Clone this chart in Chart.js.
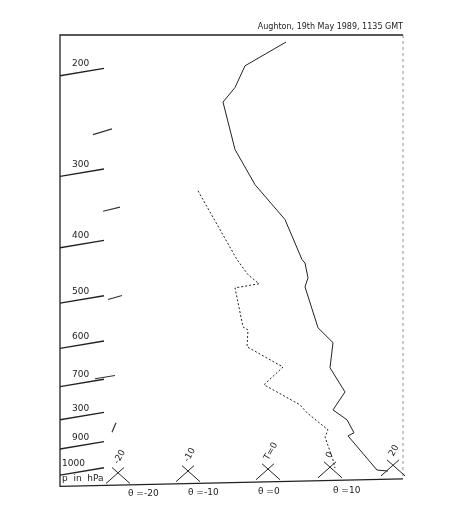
<!DOCTYPE html>
<html><head><meta charset="utf-8">
<script src="https://cdn.jsdelivr.net/npm/chart.js@4"></script>
<style>html,body{margin:0;background:#fff}#wrap{width:456px;height:528px}</style>
</head><body><div id="wrap"><canvas id="c"></canvas></div>
<script>
// sounding: x = position across the chart, p = pressure (hPa)
const tempX = [286,245,235,223,235,255,285,302,305,308,305,318,333,330,345,333,347,354,348,377,388];
const tempP = [179,197,215,228,276,318,366,430,436,463,480,566,601,665,733,788,820,864,875,1004,1008];
const dewX = [198,237,248,259,235,243,248,247,283,264,300,307,328,325,333,335];
const dewP = [326,430,457,474,482,564,571,611,663,712,772,797,854,879,964,996];
const isobars = [200,300,400,500,600,700,800,900,1000];
const isoLabels = ['200','300','400','500','600','700','300','900','1000'];
const thetaX = [118,188,268,330,393];
const thetaTags = ['-20','-10','T=0','0','20'];
const thetaLabels = ['θ =-20','θ =-10','θ =0','θ =10'];
const thetaLabelX = [150,210,280,355];
// wind barbs: [x, p, dx, dp-ratio] rough stick ends
const barbs = [
  [[93,260],[112,254]], [[103,354],[120,348]], [[108,505],[122,497]],
  [[95,695],[115,686]], [[112,862],[116,830]]
];

const lineDs = (xs, ps, dash) => ({
  data: xs.map((x, i) => ({x, y: ps[i]})), borderColor: '#222', borderWidth: 1,
  borderDash: dash, pointRadius: 0, tension: 0
});
const datasets = [lineDs(tempX, tempP, []), lineDs(dewX, dewP, [2, 2])];
isobars.forEach(p => datasets.push({
  data: [{x: 60, y: p * 1.025}, {x: 104, y: p * 0.995}],
  borderColor: '#222', borderWidth: 1.4, pointRadius: 0
}));
barbs.forEach(b => datasets.push({
  data: b.map(([x, y]) => ({x, y})), borderColor: '#333', borderWidth: 1.2, pointRadius: 0
}));

const deco = {
  id: 'deco',
  afterDatasetsDraw(chart) {
    const c = chart.ctx, xs = chart.scales.x, ys = chart.scales.y;
    c.save();
    c.strokeStyle = '#222'; c.fillStyle = '#222'; c.lineWidth = 1.3;
    // frame
    c.beginPath();
    c.moveTo(xs.getPixelForValue(60), ys.getPixelForValue(1075));
    c.lineTo(xs.getPixelForValue(60), ys.getPixelForValue(174));
    c.lineTo(xs.getPixelForValue(403), ys.getPixelForValue(174));
    c.stroke();
    c.beginPath();
    c.moveTo(xs.getPixelForValue(60), ys.getPixelForValue(1072));
    c.lineTo(xs.getPixelForValue(403), ys.getPixelForValue(1040));
    c.stroke();
    c.lineWidth = 0.7; c.setLineDash([3, 3]); c.strokeStyle = '#666';
    c.beginPath();
    c.moveTo(xs.getPixelForValue(403), ys.getPixelForValue(174));
    c.lineTo(xs.getPixelForValue(403), ys.getPixelForValue(1040));
    c.stroke();
    c.setLineDash([]); c.strokeStyle = '#222'; c.lineWidth = 1;
    // isobar labels
    c.font = '9px "DejaVu Sans"'; c.textBaseline = 'bottom';
    isobars.forEach((p, i) => c.fillText(isoLabels[i], xs.getPixelForValue(i === 8 ? 62 : 72), ys.getPixelForValue(p) - 1));
    c.fillText('p  in  hPa', xs.getPixelForValue(62), ys.getPixelForValue(1060));
    // theta crosses at the base
    thetaX.forEach((x, i) => {
      const px = xs.getPixelForValue(x), py = ys.getPixelForValue(1060 - i * 8);
      c.beginPath();
      c.moveTo(px - 12, py); c.lineTo(px + 6, py - 16);
      c.moveTo(px - 6, py - 16); c.lineTo(px + 12, py);
      c.stroke();
      c.save(); c.translate(px + 2, py - 18); c.rotate(-Math.PI / 3);
      c.fillText(thetaTags[i], 0, 0); c.restore();
    });
    c.font = '9px "DejaVu Sans"'; c.textBaseline = 'top';
    thetaLabels.forEach((t, i) => c.fillText(t, thetaLabelX[i] - 22, ys.getPixelForValue(1075) + 2 - i));
    c.font = '8px "DejaVu Sans"'; c.textAlign = 'right'; c.textBaseline = 'bottom';
    c.fillText('Aughton, 19th May 1989, 1135 GMT', xs.getPixelForValue(403), ys.getPixelForValue(174) - 4);
    c.restore();
  }
};

new Chart(document.getElementById('c'), {
  type: 'line',
  data: {datasets},
  options: {
    responsive: true, maintainAspectRatio: false, animation: false,
    layout: {padding: {left: 60, right: 53, top: 35, bottom: 41}},
    plugins: {legend: {display: false}, tooltip: {enabled: false}},
    scales: {
      x: {type: 'linear', min: 60, max: 403, display: false},
      y: {type: 'logarithmic', min: 174, max: 1075, reverse: true, display: false}
    }
  },
  plugins: [deco]
});
</script></body></html>
